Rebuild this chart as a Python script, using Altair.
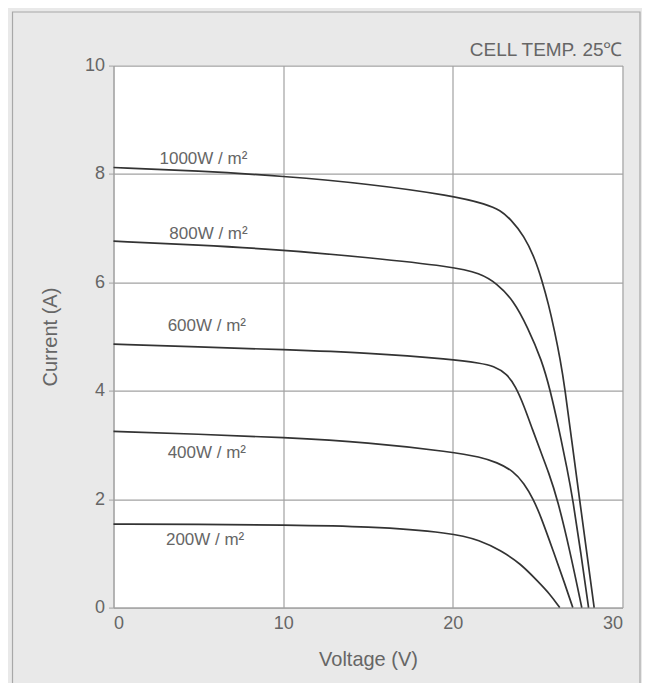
import altair as alt
import pandas as pd

# ---- data (Voltage V, Current A) ----
irradiance = ["1000W/m²", "800W/m²", "600W/m²", "400W/m²", "200W/m²"]

V1000 = [0, 5, 10, 15, 20, 22, 22.8, 23.4, 24.2, 24.85, 25.25, 25.64, 26.0, 26.33, 26.6, 27.0, 27.47, 27.9, 28.33]
I1000 = [8.12, 8.06, 7.96, 7.82, 7.6, 7.44, 7.33, 7.17, 6.86, 6.43, 6.04, 5.6, 5.1, 4.58, 4.06, 3.1, 2.0, 1.0, 0]

V800 = [0, 5, 10, 15, 20, 21.6, 22.6, 23.57, 24.4, 25.25, 25.75, 26.25, 26.76, 27.07, 27.55, 28.0]
I800 = [6.76, 6.69, 6.6, 6.46, 6.29, 6.17, 5.98, 5.67, 5.18, 4.56, 4.0, 3.3, 2.53, 2.0, 1.0, 0]

V600 = [0, 5, 10, 15, 20, 21.6, 22.4, 23.2, 23.7, 24.2, 24.7, 25.2, 25.64, 26.17, 26.9, 27.6]
I600 = [4.86, 4.81, 4.76, 4.7, 4.58, 4.51, 4.46, 4.31, 4.08, 3.72, 3.28, 2.86, 2.5, 2.0, 1.05, 0]

V400 = [0, 5, 10, 15, 20, 21.6, 22.6, 23.57, 24.2, 24.75, 25.2, 25.9, 26.6, 27.07]
I400 = [3.25, 3.2, 3.14, 3.05, 2.87, 2.78, 2.68, 2.52, 2.29, 2.0, 1.67, 1.06, 0.44, 0]

V200 = [0, 5, 10, 15, 20, 21.6, 22.8, 24.0, 24.96, 25.7, 26.3]
I200 = [1.54, 1.54, 1.52, 1.5, 1.38, 1.24, 1.06, 0.81, 0.5, 0.26, 0]

# curve label texts and their anchor (data coordinates)
label_text = ["1000W / m²", "800W / m²", "600W / m²", "400W / m²", "200W / m²"]
label_V = [5.3, 5.6, 5.5, 5.5, 5.4]
label_I = [8.27, 6.9, 5.19, 2.86, 1.24]

x_ticks = [0, 10, 20, 30]
y_ticks = [0, 2, 4, 6, 8, 10]

series = [(irradiance[0], V1000, I1000), (irradiance[1], V800, I800),
          (irradiance[2], V600, I600), (irradiance[3], V400, I400),
          (irradiance[4], V200, I200)]
rows = []
for name, vs, cs in series:
    for v, c in zip(vs, cs):
        rows.append({"irr": name, "V": v, "I": c})
df = pd.DataFrame(rows)
lab = pd.DataFrame({"txt": label_text, "V": label_V, "I": label_I})

W, H = 509, 542
FONT = "Liberation Sans"
TXT = "#666666"
GRID = "#a2a2a2"

xenc = alt.X("V:Q", scale=alt.Scale(domain=[0, 30], nice=False),
             axis=alt.Axis(values=x_ticks, title="Voltage (V)", grid=True,
                           tickSize=0, labelPadding=7, titlePadding=17,
                           labelFontSize=18, titleFontSize=20,
                           labelColor=TXT, titleColor=TXT, labelFont=FONT,
                           titleFont=FONT, titleFontWeight="normal",
                           domainColor=GRID, gridColor=GRID, gridWidth=1.2))
yenc = alt.Y("I:Q", scale=alt.Scale(domain=[0, 10], nice=False),
             axis=alt.Axis(values=y_ticks, title="Current  (A)", grid=True,
                           tickSize=5, tickColor=GRID, labelPadding=4,
                           titlePadding=24, labelFontSize=18, titleFontSize=20,
                           labelColor=TXT, titleColor=TXT, labelFont=FONT,
                           titleFont=FONT, titleFontWeight="normal",
                           domainColor=GRID, gridColor=GRID, gridWidth=1.2))

frame = alt.Chart(pd.DataFrame({"k": [0]})).mark_rect(
    fill=None, stroke="#a8a8a8", strokeWidth=1.2
).encode(x=alt.value(-101), x2=alt.value(526.5), y=alt.value(-53.6), y2=alt.value(640))

lines = alt.Chart(df).mark_line(
    color="#333333", strokeWidth=1.7, interpolate="basis"
).encode(x=xenc, y=yenc, detail="irr:N")

labels = alt.Chart(lab).mark_text(
    font=FONT, fontSize=17, color=TXT, align="center", baseline="middle"
).encode(x="V:Q", y="I:Q", text="txt:N")

temp = alt.Chart(pd.DataFrame({"t": ["CELL TEMP. 25℃"]})).mark_text(
    font=FONT, fontSize=19, color=TXT, align="right", baseline="middle"
).encode(x=alt.value(W), y=alt.value(-16), text="t:N")

chart = alt.layer(frame, lines, labels, temp).properties(
    width=W, height=H,
    autosize=alt.AutoSizeParams(type="none"),
    padding={"left": 105.5, "top": 57.6, "right": 19.5, "bottom": 75},
    background="#e9e9e9",
).configure_view(fill="white", stroke=None)

chart.save("out.html", embed_options={"renderer": "svg", "actions": False})
